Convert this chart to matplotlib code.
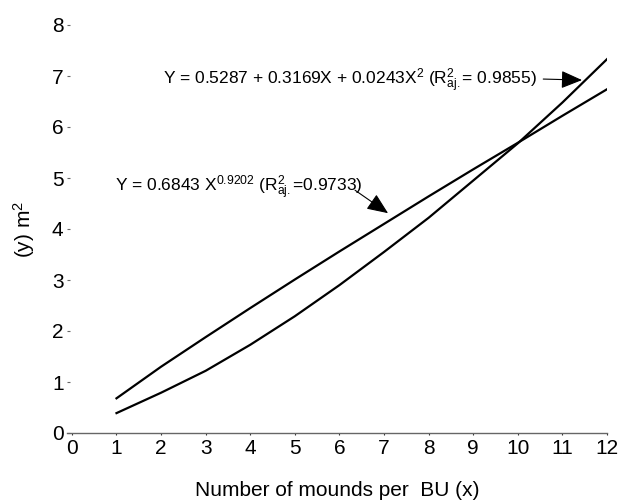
import matplotlib

matplotlib.use("Agg")
import matplotlib.pyplot as plt

plt.rcParams["font.family"] = ["Liberation Sans", "DejaVu Sans"]
plt.rcParams["mathtext.fontset"] = "custom"
plt.rcParams["mathtext.rm"] = "Liberation Sans"
plt.rcParams["mathtext.it"] = "Liberation Sans"

# mounds per BU
mounds = [1, 2, 3, 4, 5, 6, 7, 8, 9, 10, 11, 12]
# power model  Y = 0.6843 X^0.9202
power_y = [0.68, 1.30, 1.88, 2.45, 3.01, 3.56, 4.10, 4.64, 5.17, 5.69, 6.22, 6.74]
# quadratic model
quad_y = [0.39, 0.79, 1.22, 1.73, 2.29, 2.90, 3.55, 4.22, 4.95, 5.68, 6.48, 7.33]

x_ticks = list(range(0, 13))
y_ticks = list(range(0, 9))

eq_quad = r"Y = 0.5287 + 0.3169X + 0.0243X$^{2}$ (R$^{2}_{aj.}$= 0.9855)"
eq_power = r"Y = 0.6843 X$^{0.9202}$ (R$^{2}_{aj.}$=0.9733)"


def main() -> None:
    fig = plt.figure(figsize=(6.31, 5.04), dpi=100)
    ax = fig.add_axes([67 / 631, 71 / 504, 540 / 631, 408 / 504])

    ax.plot(mounds, power_y, color="black", lw=1.6)
    ax.plot(mounds, quad_y, color="black", lw=1.6)

    ax.set_xlim(-0.11, 12)
    ax.set_ylim(0, 8)
    ax.set_xticks(x_ticks)
    ax.set_yticks(y_ticks)

    for s in ["top", "right", "left"]:
        ax.spines[s].set_visible(False)
    ax.spines["bottom"].set_color("#666666")
    ax.spines["bottom"].set_linewidth(1.0)

    ax.tick_params(axis="y", direction="in", length=2.5, width=0.8,
                   color="#666666", pad=2.5, labelsize=15)
    ax.tick_params(axis="x", direction="out", length=1.5, width=0.8,
                   color="#333333", pad=3.0, labelsize=15)

    ax.set_xlabel("Number of mounds per  BU (x)", fontsize=15)
    ax.xaxis.set_label_coords(0.5, -0.118)
    ax.set_ylabel("(y) m$^{2}$", fontsize=15)
    ax.yaxis.set_label_coords(-0.055, 0.5)

    arrow = dict(arrowstyle="-|>,head_length=1.3,head_width=0.55",
                 color="black", lw=0.8, shrinkA=0, shrinkB=0)
    ax.annotate("", xy=(11.44, 6.92), xytext=(10.57, 6.94), arrowprops=arrow)
    ax.annotate("", xy=(7.09, 4.31), xytext=(6.35, 4.76), arrowprops=arrow)

    ax.text(2.04, 6.82, eq_quad, fontsize=12.5, ha="left", va="baseline")
    ax.text(0.96, 4.73, eq_power, fontsize=12.5, ha="left", va="baseline")

    fig.savefig("out.png", dpi=100)


if __name__ == "__main__":
    main()
